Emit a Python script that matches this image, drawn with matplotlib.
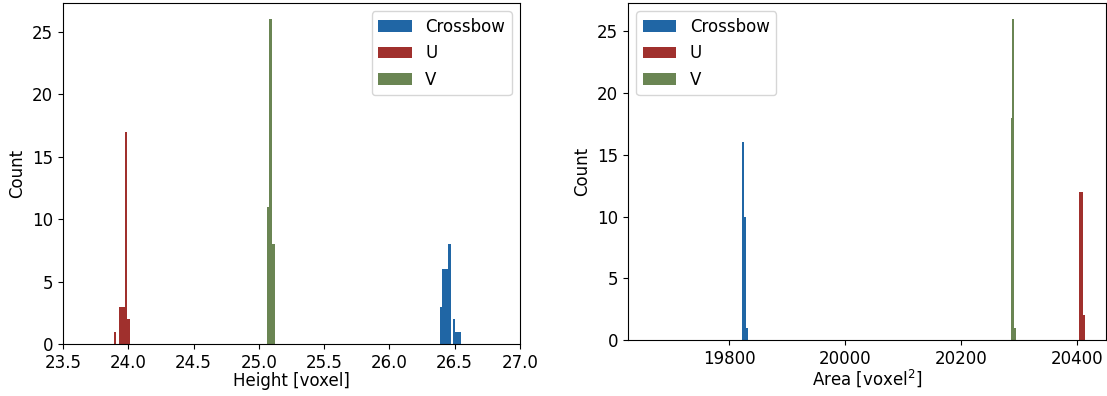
import numpy as np
import matplotlib
matplotlib.use("Agg")
import matplotlib.pyplot as plt

# series colours
c_crossbow = '#2066a5'
c_u = '#a0302d'
c_v = '#6a8553'

# height histograms (bin edges, counts)
h_crossbow_edges = np.linspace(26.3867, 26.5498, 11)
h_crossbow_counts = [3, 6, 6, 6, 8, 0, 2, 1, 1, 1]
h_u_edges = np.linspace(23.8905, 24.015, 11)
h_u_counts = [1, 0, 0, 3, 3, 3, 3, 17, 2, 2]
h_v_edges = [25.0605, 25.0796, 25.1003, 25.1217]
h_v_counts = [11, 26, 8]

# area histograms (bin edges, counts)
a_crossbow_edges = [19822, 19826, 19829, 19832]
a_crossbow_counts = [16, 10, 1]
a_u_edges = [20403.5, 20411, 20414]
a_u_counts = [12, 2]
a_v_edges = [20286, 20288.5, 20291.5, 20295]
a_v_counts = [18, 26, 1]

plt.rcParams['font.size'] = 12

fig = plt.figure(figsize=(11.07, 3.96), dpi=100)
ax1 = fig.add_axes([0.0569, 0.1313, 0.4128, 0.861])
ax2 = fig.add_axes([0.5673, 0.1414, 0.4318, 0.851])

def hist(ax, edges, counts, color, label):
    edges = np.asarray(edges, dtype=float)
    ax.hist(edges[:-1], bins=edges, weights=counts, color=color, label=label)

hist(ax1, h_crossbow_edges, h_crossbow_counts, c_crossbow, 'Crossbow')
hist(ax1, h_u_edges, h_u_counts, c_u, 'U')
hist(ax1, h_v_edges, h_v_counts, c_v, 'V')
ax1.set_xlim(23.5, 27.0)
ax1.set_xlabel('Height [voxel]', labelpad=0)
ax1.set_ylabel('Count')
ax1.legend(loc='upper right')

hist(ax2, a_crossbow_edges, a_crossbow_counts, c_crossbow, 'Crossbow')
hist(ax2, a_u_edges, a_u_counts, c_u, 'U')
hist(ax2, a_v_edges, a_v_counts, c_v, 'V')
ax2.set_xlim(19626, 20450)
ax2.set_xticks([19800, 20000, 20200, 20400])
ax2.set_xlabel('Area [voxel$^2$]', labelpad=0)
ax2.set_ylabel('Count')
ax2.legend(loc='upper left')

fig.savefig('out.png', dpi=100)
